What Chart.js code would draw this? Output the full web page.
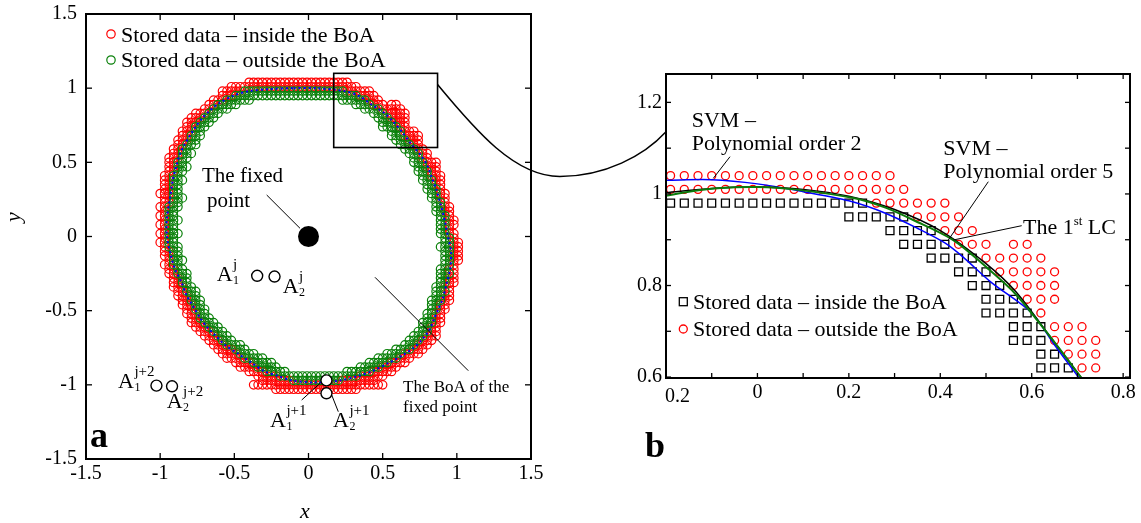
<!DOCTYPE html>
<html>
<head>
<meta charset="utf-8">
<title>Stored data around the limit cycle</title>
<script src="https://cdn.jsdelivr.net/npm/chart.js@4.4.1/dist/chart.umd.min.js"></script>
<style>
  html, body { margin: 0; padding: 0; background: #fff; }
  #wrap { position: relative; width: 1141px; height: 523px; overflow: hidden; }
  #wrap canvas { position: absolute; top: 0; }
  #chartA { left: 0; }
  #chartB { left: 600px; }
  #link { left: 0; pointer-events: none; }
</style>
</head>
<body>
<div id="wrap">
  <canvas id="chartA" width="560" height="523"></canvas>
  <canvas id="chartB" width="541" height="523"></canvas>
  <canvas id="link" width="1141" height="523"></canvas>
</div>
<script>
// ---- (a) stored data on the 0.03 grid, one entry per grid row ----
var ringRows = [1.04, 1.01, 0.98, 0.95, 0.92, 0.89, 0.86, 0.83, 0.80, 0.77, 0.74, 0.71, 0.68, 0.65,
  0.62, 0.59, 0.56, 0.53, 0.50, 0.47, 0.44, 0.41, 0.38, 0.35, 0.32, 0.29, 0.26, 0.23, 0.20, 0.17,
  0.14, 0.11, 0.08, 0.05, 0.02, -0.01, -0.04, -0.07, -0.10, -0.13, -0.16, -0.19, -0.22, -0.25,
  -0.28, -0.31, -0.34, -0.37, -0.40, -0.43, -0.46, -0.49, -0.52, -0.55, -0.58, -0.61, -0.64, -0.67,
  -0.70, -0.73, -0.76, -0.79, -0.82, -0.85, -0.88, -0.91, -0.94, -0.97, -1.00, -1.03];

// red: inside the BoA
var insideX = [
  [-0.40,-0.37,-0.34,-0.31,-0.28,-0.25,-0.22,-0.19,-0.16,-0.13,-0.10,-0.07,-0.04,-0.01,0.02,0.05,0.08,0.11,0.14,0.17,0.20,0.23,0.26],
  [-0.52,-0.49,-0.46,-0.43,-0.40,-0.37,-0.34,-0.31,-0.28,-0.25,-0.22,-0.19,-0.16,-0.13,-0.10,-0.07,-0.04,-0.01,0.02,0.05,0.08,0.11,0.14,0.17,0.20,0.23,0.26,0.29,0.32],
  [-0.58,-0.55,-0.52,-0.49,-0.46,0.26,0.29,0.32,0.35,0.38,0.41],
  [-0.58,-0.55,-0.52,0.35,0.38,0.41,0.44],
  [-0.64,-0.61,-0.58,0.41,0.44,0.47],
  [-0.67,-0.64,0.44,0.47,0.50,0.56,0.59],
  [-0.70,-0.67,0.50,0.53,0.56,0.59,0.62],
  [-0.76,-0.73,-0.70,0.53,0.56,0.59,0.62,0.65],
  [-0.79,-0.76,-0.73,0.56,0.59,0.62,0.65],
  [-0.82,-0.79,-0.76,0.59,0.62,0.65],
  [-0.82,-0.79,0.62,0.65],
  [-0.85,-0.82,-0.79,0.65,0.68,0.71],
  [-0.85,-0.82,0.65,0.68,0.71,0.74],
  [-0.88,-0.85,-0.82,0.68,0.71,0.74],
  [-0.88,-0.85,0.71,0.74],
  [-0.91,-0.88,0.74,0.77],
  [-0.91,-0.88,0.77,0.80],
  [-0.94,-0.91,-0.88,0.77,0.80],
  [-0.94,-0.91,0.80,0.83,0.86],
  [-0.94,-0.91,0.80,0.83,0.86],
  [-0.94,-0.91,0.83,0.86],
  [-0.97,-0.94,0.83,0.86,0.89],
  [-0.97,-0.94,0.86,0.89],
  [-0.97,-0.94,0.86,0.89],
  [-0.97,-0.94,0.89],
  [-1.00,-0.97,-0.94,0.89,0.92],
  [-0.97,-0.94,0.89,0.92],
  [-0.97,-0.94,0.92],
  [-1.00,-0.97,0.92,0.95],
  [-0.97,0.92,0.95],
  [-1.00,-0.97,0.95],
  [-0.97,0.95,0.98],
  [-1.00,-0.97,0.95,0.98],
  [-0.97,0.95],
  [-1.00,-0.97,0.95,0.98],
  [-0.97,0.98],
  [-1.00,-0.97,0.98,1.01],
  [-0.97,0.98,1.01],
  [-0.97,-0.94,0.98,1.01],
  [-0.97,-0.94,0.98,1.01],
  [-0.94,0.98,1.01],
  [-0.97,-0.94,0.98],
  [-0.94,-0.91,0.95,0.98],
  [-0.94,-0.91,0.98],
  [-0.91,-0.88,0.95,0.98],
  [-0.91,-0.88,0.95,0.98],
  [-0.91,-0.88,-0.85,0.92,0.95],
  [-0.88,-0.85,0.95],
  [-0.88,-0.85,-0.82,0.92,0.95],
  [-0.85,-0.82,0.92,0.95],
  [-0.85,-0.82,-0.79,0.89,0.92],
  [-0.82,-0.79,0.89,0.92],
  [-0.82,-0.79,-0.76,0.86,0.89],
  [-0.79,-0.76,0.86,0.89],
  [-0.79,-0.76,-0.73,0.86,0.89],
  [-0.76,-0.73,-0.70,0.83,0.86],
  [-0.73,-0.70,-0.67,0.83,0.86],
  [-0.70,-0.67,-0.64,0.80,0.83,0.86],
  [-0.67,-0.64,-0.61,0.77,0.80,0.83],
  [-0.64,-0.61,-0.58,0.74,0.77,0.80],
  [-0.61,-0.58,-0.55,-0.52,0.71,0.74,0.77],
  [-0.58,-0.55,-0.52,-0.49,0.65,0.68,0.71,0.74],
  [-0.55,-0.52,-0.49,-0.46,0.62,0.65,0.68],
  [-0.49,-0.46,-0.43,-0.40,0.56,0.59,0.62,0.65],
  [-0.46,-0.43,-0.40,-0.37,0.50,0.53,0.56,0.59],
  [-0.40,-0.37,-0.34,-0.31,0.44,0.47,0.50,0.53,0.56],
  [-0.34,-0.31,-0.28,-0.25,-0.22,0.35,0.38,0.41,0.44,0.47,0.50],
  [-0.31,-0.28,-0.25,-0.22,-0.19,-0.16,-0.13,0.23,0.26,0.29,0.32,0.35,0.38,0.41,0.44],
  [-0.37,-0.34,-0.31,-0.28,-0.25,-0.22,-0.19,-0.16,-0.13,-0.10,-0.07,-0.04,-0.01,0.02,0.05,0.08,0.11,0.14,0.17,0.20,0.23,0.26,0.29,0.32,0.35,0.38,0.41,0.44,0.47,0.50],
  [-0.22,-0.19,-0.16,-0.13,-0.10,-0.07,-0.04,-0.01,0.02,0.05,0.08,0.11,0.14,0.17,0.20,0.23,0.26,0.29,0.32]
];

// green: outside the BoA
var outsideX = [
  [],
  [],
  [-0.43,-0.40,-0.37,-0.34,-0.31,-0.28,-0.25,-0.22,-0.19,-0.16,-0.13,-0.10,-0.07,-0.04,-0.01,0.02,0.05,0.08,0.11,0.14,0.17,0.20,0.23],
  [-0.49,-0.46,-0.43,-0.40,-0.37,-0.34,-0.31,-0.28,-0.25,-0.22,-0.19,-0.16,-0.13,-0.10,-0.07,-0.04,-0.01,0.02,0.05,0.08,0.11,0.14,0.17,0.20,0.23,0.26,0.29,0.32],
  [-0.55,-0.52,-0.49,-0.46,-0.43,-0.40,0.23,0.26,0.29,0.32,0.35,0.38],
  [-0.61,-0.58,-0.55,-0.52,-0.49,0.32,0.35,0.38,0.41],
  [-0.64,-0.61,-0.58,-0.55,0.38,0.41,0.44,0.47],
  [-0.67,-0.64,-0.61,0.44,0.47,0.50],
  [-0.70,-0.67,-0.64,0.47,0.50,0.53],
  [-0.73,-0.70,-0.67,0.50,0.53,0.56],
  [-0.76,-0.73,-0.70,0.50,0.53,0.56,0.59],
  [-0.76,-0.73,0.56,0.59,0.62],
  [-0.79,-0.76,-0.73,0.56,0.59,0.62],
  [-0.79,-0.76,0.59,0.62,0.65],
  [-0.82,-0.79,-0.76,0.62,0.65,0.68],
  [-0.85,-0.82,0.65,0.68,0.71],
  [-0.85,-0.82,-0.79,0.68,0.71,0.74],
  [-0.85,-0.82,0.71,0.74],
  [-0.88,-0.85,0.71,0.74,0.77],
  [-0.88,-0.85,-0.82,0.74,0.77],
  [-0.88,-0.85,0.74,0.77,0.80],
  [-0.91,-0.88,0.77,0.80],
  [-0.91,-0.88,-0.85,0.77,0.80,0.83],
  [-0.91,-0.88,0.80,0.83],
  [-0.91,-0.88,0.80,0.83,0.86],
  [-0.91,-0.88,0.83,0.86],
  [-0.91,-0.88,-0.85,0.83,0.86],
  [-0.91,-0.88,0.86,0.89],
  [-0.94,-0.91,-0.88,0.86,0.89],
  [-0.94,-0.91,0.86,0.89],
  [-0.94,-0.91,0.89,0.92],
  [-0.94,-0.91,-0.88,0.89,0.92],
  [-0.94,-0.91,0.89,0.92],
  [-0.94,-0.91,0.89,0.92],
  [-0.94,-0.91,-0.88,0.89,0.92],
  [-0.94,-0.91,0.92,0.95],
  [-0.94,-0.91,0.92,0.95],
  [-0.94,-0.91,-0.88,0.89,0.92,0.95],
  [-0.91,-0.88,0.92,0.95],
  [-0.91,-0.88,0.92,0.95],
  [-0.91,-0.88,-0.85,0.92,0.95],
  [-0.91,-0.88,0.92,0.95],
  [-0.88,-0.85,0.89,0.92],
  [-0.88,-0.85,-0.82,0.89,0.92,0.95],
  [-0.85,-0.82,0.89,0.92],
  [-0.85,-0.82,0.89,0.92],
  [-0.82,-0.79,0.86,0.89],
  [-0.82,-0.79,-0.76,0.86,0.89,0.92],
  [-0.79,-0.76,0.86,0.89],
  [-0.79,-0.76,-0.73,0.83,0.86,0.89],
  [-0.76,-0.73,0.83,0.86],
  [-0.76,-0.73,-0.70,0.83,0.86],
  [-0.73,-0.70,0.80,0.83],
  [-0.73,-0.70,-0.67,0.80,0.83],
  [-0.70,-0.67,-0.64,0.77,0.80,0.83],
  [-0.67,-0.64,-0.61,0.77,0.80],
  [-0.64,-0.61,-0.58,0.74,0.77,0.80],
  [-0.61,-0.58,-0.55,0.71,0.74,0.77],
  [-0.58,-0.55,-0.52,0.68,0.71,0.74],
  [-0.55,-0.52,-0.49,-0.46,0.65,0.68,0.71],
  [-0.49,-0.46,-0.43,0.59,0.62,0.65,0.68],
  [-0.46,-0.43,-0.40,-0.37,0.53,0.56,0.59,0.62],
  [-0.43,-0.40,-0.37,-0.34,-0.31,0.47,0.50,0.53,0.56,0.59],
  [-0.37,-0.34,-0.31,-0.28,-0.25,0.41,0.44,0.47,0.50,0.53],
  [-0.34,-0.31,-0.28,-0.25,-0.22,0.35,0.38,0.41,0.44,0.47],
  [-0.28,-0.25,-0.22,-0.19,-0.16,0.26,0.29,0.32,0.35,0.38,0.41],
  [-0.19,-0.16,-0.13,-0.10,-0.07,-0.04,-0.01,0.02,0.05,0.08,0.11,0.14,0.17,0.20,0.23,0.26,0.29,0.32],
  [-0.10,-0.07,-0.04,-0.01,0.02,0.05,0.08,0.11,0.14,0.17,0.20],
  [],
  []
];

// the limit cycle through the band
var lcX = [-0.10, 0.05, 0.245, 0.335, 0.425, 0.515, 0.575, 0.635, 0.695, 0.755, 0.80, 0.83, 0.86, 0.89,
  0.92, 0.94, 0.96, 0.955, 0.93, 0.905, 0.875, 0.845, 0.815, 0.77, 0.71, 0.635, 0.545, 0.425, 0.335,
  0.215, 0.05, -0.115, -0.205, -0.295, -0.385, -0.475, -0.565, -0.625, -0.685, -0.73, -0.775, -0.82,
  -0.86, -0.90, -0.93, -0.955, -0.955, -0.935, -0.915, -0.89, -0.865, -0.835, -0.80, -0.76, -0.715,
  -0.67, -0.60, -0.505, -0.40, -0.25, -0.10];
var lcY = [1.0, 1.0, 0.98, 0.95, 0.89, 0.83, 0.77, 0.70, 0.62, 0.55, 0.48, 0.40, 0.32, 0.22,
  0.10, 0.0, -0.10, -0.22, -0.32, -0.42, -0.49, -0.56, -0.63, -0.69, -0.75, -0.80, -0.85, -0.91, -0.94,
  -0.97, -0.985, -0.97, -0.94, -0.91, -0.85, -0.79, -0.73, -0.67, -0.61, -0.55, -0.475, -0.40,
  -0.30, -0.22, -0.12, 0.0, 0.12, 0.25, 0.38, 0.48, 0.56, 0.62, 0.68, 0.74, 0.80,
  0.845, 0.90, 0.95, 0.98, 0.995, 1.0];

var fixedPoint = [0, 0];
// A_1^j, A_2^j, A_1^{j+1}, A_2^{j+1}, A_1^{j+2}, A_2^{j+2}
var iterX = [-0.346, -0.229, 0.121, 0.121, -1.025, -0.92];
var iterY = [-0.265, -0.27, -0.97, -1.057, -1.005, -1.01];
var zoomBox = [0.17, 0.87, 0.6, 1.1];   // x0, x1, y0, y1
var aTicks = [-1.5, -1, -0.5, 0, 0.5, 1, 1.5];

// ---- (b) close-up of the window ----
var bRows = [1.04, 1.01, 0.98, 0.95, 0.92, 0.89, 0.86, 0.83, 0.80, 0.77, 0.74, 0.71, 0.68, 0.65, 0.62];
var bInsideX = [
  [],
  [],
  [-0.19,-0.16,-0.13,-0.10,-0.07,-0.04,-0.01,0.02,0.05,0.08,0.11,0.14,0.17,0.20,0.23],
  [0.20,0.23,0.26,0.29,0.32],
  [0.29,0.32,0.35,0.38],
  [0.32,0.35,0.38,0.41],
  [0.38,0.41,0.44,0.47],
  [0.44,0.47,0.50],
  [0.47,0.50,0.53],
  [0.50,0.53,0.56],
  [0.50,0.53,0.56,0.59],
  [0.56,0.59,0.62],
  [0.56,0.59,0.62],
  [0.62,0.65],
  [0.62,0.65,0.68]
];
var bOutsideX = [
  [-0.19,-0.16,-0.13,-0.10,-0.07,-0.04,-0.01,0.02,0.05,0.08,0.11,0.14,0.17,0.20,0.23,0.26,0.29],
  [-0.19,-0.16,-0.13,-0.10,-0.07,-0.04,-0.01,0.02,0.05,0.08,0.11,0.14,0.17,0.20,0.23,0.26,0.29,0.32],
  [0.26,0.29,0.32,0.35,0.38,0.41],
  [0.35,0.38,0.41,0.44],
  [0.41,0.44,0.47],
  [0.44,0.47,0.50,0.56,0.59],
  [0.50,0.53,0.56,0.59,0.62],
  [0.53,0.56,0.59,0.62,0.65],
  [0.56,0.59,0.62,0.65],
  [0.59,0.62,0.65],
  [0.62],
  [0.65,0.68,0.71],
  [0.65,0.68,0.71,0.74],
  [0.68,0.71,0.74],
  [0.71,0.74]
];
var svm2X = [-0.2, -0.1, 0.0, 0.1, 0.2, 0.28, 0.35, 0.41, 0.45, 0.51, 0.60, 0.65, 0.71];
var svm2Y = [1.03, 1.031, 1.022, 1.005, 0.985, 0.958, 0.925, 0.893, 0.862, 0.808, 0.74, 0.67, 0.59];
var svm5X = [-0.2, -0.15, -0.08, 0.0, 0.08, 0.21, 0.28, 0.343, 0.43, 0.503, 0.565, 0.642, 0.715];
var svm5Y = [0.996, 1.005, 1.013, 1.015, 1.01, 0.991, 0.97, 0.942, 0.898, 0.838, 0.781, 0.686, 0.59];
var lcbX = [-0.2, -0.1, 0.0, 0.1, 0.2, 0.3, 0.4, 0.5, 0.565, 0.642, 0.715];
var lcbY = [1.003, 1.012, 1.015, 1.01, 0.995, 0.966, 0.92, 0.848, 0.787, 0.686, 0.59];
var bXTicks = [-0.2, -0.1, 0, 0.1, 0.2, 0.3, 0.4, 0.5, 0.6, 0.7, 0.8];
var bXLabels = ['', '', '0', '', '0.2', '', '0.4', '', '0.6', '', '0.8'];
var bYTicks = [0.6, 0.7, 0.8, 0.9, 1.0, 1.1, 1.2];
var bYLabels = ['0.6', '', '0.8', '', '1', '', '1.2'];

var RED = '#ff0000', GREEN = '#0a800a', BLUE = '#0000ff';
var serif = '"Liberation Serif", "Times New Roman", serif';
var tickFont = { family: serif, size: 20 };

function gridPoints(rows, xs) {
  var pts = [];
  rows.forEach(function (y, i) {
    xs[i].forEach(function (x) { pts.push({ x: x, y: y }); });
  });
  return pts;
}
function zip(xs, ys) {
  return xs.map(function (x, i) { return { x: x, y: ys[i] }; });
}

function text(ctx, s, x, y, size, style) {
  ctx.font = (style || '') + ' ' + size + 'px ' + serif;
  ctx.fillText(s, x, y);
  return ctx.measureText(s).width;
}
// "A" with a subscript and a superscript
function iterLabel(ctx, x, y, sub, sup) {
  var w = text(ctx, 'A', x, y, 22);
  text(ctx, sup, x + w + 0.5, y - 12, 15);
  text(ctx, sub, x + w + 0.5, y + 3, 12);
}
function seg(ctx, x0, y0, x1, y1) {
  ctx.beginPath(); ctx.moveTo(x0, y0); ctx.lineTo(x1, y1); ctx.stroke();
}

// frame round the plot area plus inward tick marks on all four sides
var frameTicks = {
  id: 'frameTicks',
  afterDraw: function (chart, args, opts) {
    var ctx = chart.ctx, a = chart.chartArea, sx = chart.scales.x, sy = chart.scales.y;
    var len = opts.len || 5;
    ctx.save();
    ctx.strokeStyle = '#000';
    ctx.lineWidth = 1.3;
    sx.ticks.forEach(function (t) {
      var p = sx.getPixelForValue(t.value);
      seg(ctx, p, a.bottom, p, a.bottom - len);
      seg(ctx, p, a.top, p, a.top + len);
    });
    sy.ticks.forEach(function (t) {
      var p = sy.getPixelForValue(t.value);
      seg(ctx, a.left, p, a.left + len, p);
      seg(ctx, a.right, p, a.right - len, p);
    });
    ctx.lineWidth = 2;
    ctx.strokeRect(a.left, a.top, a.right - a.left, a.bottom - a.top);
    ctx.restore();
  }
};

var notesA = {
  id: 'notesA',
  afterDraw: function (chart) {
    var ctx = chart.ctx, sx = chart.scales.x, sy = chart.scales.y;
    ctx.save();
    ctx.fillStyle = '#000';
    ctx.strokeStyle = '#000';
    ctx.textAlign = 'left';
    ctx.textBaseline = 'alphabetic';

    // window shown in (b)
    var x0 = sx.getPixelForValue(zoomBox[0]), x1 = sx.getPixelForValue(zoomBox[1]);
    var y0 = sy.getPixelForValue(zoomBox[2]), y1 = sy.getPixelForValue(zoomBox[3]);
    ctx.lineWidth = 1.6;
    ctx.strokeRect(x0, y1, x1 - x0, y0 - y1);

    // legend
    ctx.lineWidth = 1.2;
    ctx.strokeStyle = RED;
    ctx.beginPath(); ctx.arc(111, 34, 4.2, 0, Math.PI * 2); ctx.stroke();
    ctx.strokeStyle = GREEN;
    ctx.beginPath(); ctx.arc(111, 60, 4.2, 0, Math.PI * 2); ctx.stroke();
    text(ctx, 'Stored data \u2013 inside the BoA', 121, 42, 22);
    text(ctx, 'Stored data \u2013 outside the BoA', 121, 67, 22);

    ctx.strokeStyle = '#000';
    ctx.lineWidth = 1;
    text(ctx, 'The fixed', 202, 182, 21);
    text(ctx, 'point', 207, 207, 21);
    seg(ctx, 266.7, 195, 300, 228.3);

    iterLabel(ctx, 216.7, 281, '1', 'j');
    iterLabel(ctx, 282.7, 293, '2', 'j');
    iterLabel(ctx, 118, 388, '1', 'j+2');
    iterLabel(ctx, 166.7, 408, '2', 'j+2');
    iterLabel(ctx, 270, 427, '1', 'j+1');
    iterLabel(ctx, 333, 427, '2', 'j+1');
    seg(ctx, 301.7, 400, 320, 383.3);
    seg(ctx, 331.7, 395, 338.3, 411.7);

    text(ctx, 'The BoA of the', 403, 392, 17);
    text(ctx, 'fixed point', 403, 412, 17);
    seg(ctx, 375, 277.3, 468.3, 370.7);

    text(ctx, 'a', 90, 447, 36, 'bold');

    ctx.textAlign = 'center';
    text(ctx, 'x', 305, 518, 22, 'italic');
    ctx.translate(20, 217);
    ctx.rotate(-Math.PI / 2);
    text(ctx, 'y', 0, 0, 22, 'italic');
    ctx.restore();
  }
};

var notesB = {
  id: 'notesB',
  afterDraw: function (chart) {
    var ctx = chart.ctx;
    ctx.save();
    ctx.fillStyle = '#000';
    ctx.strokeStyle = '#000';
    ctx.lineWidth = 1;
    ctx.textAlign = 'left';
    ctx.textBaseline = 'alphabetic';

    text(ctx, 'SVM \u2013', 91.7, 126.7, 22);
    text(ctx, 'Polynomial order 2', 91.7, 149.5, 22);
    seg(ctx, 130, 156.7, 113.3, 178.3);

    text(ctx, 'SVM \u2013', 343.3, 155, 22);
    text(ctx, 'Polynomial order 5', 343.3, 178.3, 22);
    seg(ctx, 388.3, 181.7, 348.3, 240);

    var w = text(ctx, 'The 1', 423, 234, 22);
    var w2 = text(ctx, 'st', 423 + w, 225, 13);
    text(ctx, ' LC', 423 + w + w2, 234, 22);
    seg(ctx, 421.7, 225.7, 353.3, 240);

    // legend
    ctx.lineWidth = 1.3;
    ctx.strokeRect(79.3, 297.7, 8, 8);
    ctx.strokeStyle = RED;
    ctx.beginPath(); ctx.arc(83.3, 329, 4, 0, Math.PI * 2); ctx.stroke();
    text(ctx, 'Stored data \u2013 inside the BoA', 93, 308.5, 22);
    text(ctx, 'Stored data \u2013 outside the BoA', 93, 336, 22);

    text(ctx, 'b', 45, 457, 36, 'bold');

    // first x label sits to the right of its tick
    ctx.textBaseline = 'middle';
    text(ctx, '0.2', 65, 397, 20);
    ctx.restore();
  }
};

function axis(min, max, ticks, labels, fixed, side) {
  return {
    type: 'linear', min: min, max: max,
    afterBuildTicks: function (s) { s.ticks = ticks.map(function (v) { return { value: v }; }); },
    afterFit: function (s) {
      if (side === 'x') { s.height = fixed; s.paddingLeft = 0; s.paddingRight = 0; }
      else { s.width = fixed; s.paddingTop = 0; s.paddingBottom = 0; }
    },
    grid: { display: false, drawTicks: false },
    border: { display: false },
    ticks: {
      font: tickFont, color: '#000', autoSkip: false, maxRotation: 0,
      padding: side === 'x' ? 3 : (labels ? 4 : 9),
      callback: function (v, i) { return labels ? labels[i] : String(v); }
    }
  };
}

var chartA = new Chart(document.getElementById('chartA'), {
  type: 'scatter',
  data: {
    datasets: [
      { label: 'iterates', data: zip(iterX, iterY), pointRadius: 5.5, borderWidth: 1.4,
        borderColor: '#000', backgroundColor: '#fff', order: 0 },
      { label: 'The fixed point', data: [{ x: fixedPoint[0], y: fixedPoint[1] }], pointRadius: 10.5,
        borderWidth: 0, backgroundColor: '#000', order: 1 },
      { label: 'The 1st LC', type: 'line', data: zip(lcX, lcY), borderColor: BLUE, borderWidth: 2,
        borderDash: [2, 3], pointRadius: 0, tension: 0.3, fill: false, order: 2 },
      { label: 'Stored data \u2013 outside the BoA', data: gridPoints(ringRows, outsideX), pointRadius: 4.2,
        borderWidth: 1.2, borderColor: GREEN, backgroundColor: 'rgba(0,0,0,0)', order: 3 },
      { label: 'Stored data \u2013 inside the BoA', data: gridPoints(ringRows, insideX), pointRadius: 4.2,
        borderWidth: 1.2, borderColor: RED, backgroundColor: 'rgba(0,0,0,0)', order: 4 }
    ]
  },
  options: {
    responsive: false, animation: false, devicePixelRatio: 1,
    layout: { padding: { left: 0, top: 14, right: 29, bottom: 0 } },
    plugins: { legend: { display: false }, tooltip: { enabled: false }, frameTicks: { len: 6 } },
    scales: {
      x: axis(-1.5, 1.5, aTicks, null, 64, 'x'),
      y: axis(-1.5, 1.5, aTicks, null, 86, 'y')
    }
  },
  plugins: [frameTicks, notesA]
});

var chartB = new Chart(document.getElementById('chartB'), {
  type: 'scatter',
  data: {
    datasets: [
      { label: 'SVM \u2013 Polynomial order 5', type: 'line', data: zip(svm5X, svm5Y), borderColor: '#0a7a0a',
        borderWidth: 2, pointRadius: 0, tension: 0.3, fill: false, order: 0 },
      { label: 'The 1st LC', type: 'line', data: zip(lcbX, lcbY), borderColor: '#000',
        borderWidth: 1.5, pointRadius: 0, tension: 0.3, fill: false, order: 1 },
      { label: 'SVM \u2013 Polynomial order 2', type: 'line', data: zip(svm2X, svm2Y), borderColor: BLUE,
        borderWidth: 1.5, pointRadius: 0, tension: 0.3, fill: false, order: 2 },
      { label: 'Stored data \u2013 inside the BoA', data: gridPoints(bRows, bInsideX), pointStyle: 'rect',
        pointRadius: 5.6, borderWidth: 1.3, borderColor: '#000', backgroundColor: 'rgba(0,0,0,0)', order: 3 },
      { label: 'Stored data \u2013 outside the BoA', data: gridPoints(bRows, bOutsideX), pointRadius: 4,
        borderWidth: 1.3, borderColor: RED, backgroundColor: 'rgba(0,0,0,0)', order: 4 }
    ]
  },
  options: {
    responsive: false, animation: false, devicePixelRatio: 1,
    layout: { padding: { left: 0, top: 74, right: 11, bottom: 0 } },
    plugins: { legend: { display: false }, tooltip: { enabled: false }, frameTicks: { len: 5 } },
    scales: {
      x: axis(-0.2, 0.815, bXTicks, bXLabels, 145, 'x'),
      y: axis(0.598, 1.262, bYTicks, bYLabels, 66, 'y')
    }
  },
  plugins: [frameTicks, notesB]
});

// curve joining the window in (a) to panel (b)
(function () {
  var ctx = document.getElementById('link').getContext('2d');
  var offB = 600;
  var p0 = { x: chartA.scales.x.getPixelForValue(zoomBox[1]), y: chartA.scales.y.getPixelForValue(1.025) };
  var p1 = { x: offB + chartB.scales.x.getPixelForValue(-0.2), y: chartB.scales.y.getPixelForValue(1.136) };
  var m = { x: (p0.x + p1.x) / 2 + 8, y: p0.y + 92 };
  ctx.strokeStyle = '#000';
  ctx.lineWidth = 1.5;
  ctx.beginPath();
  ctx.moveTo(p0.x, p0.y);
  ctx.bezierCurveTo(p0.x + 38, p0.y + 46, m.x - 45, m.y, m.x, m.y);
  ctx.bezierCurveTo(m.x + 45, m.y, p1.x - 22, p1.y + 24, p1.x, p1.y);
  ctx.stroke();
})();
</script>
</body>
</html>
